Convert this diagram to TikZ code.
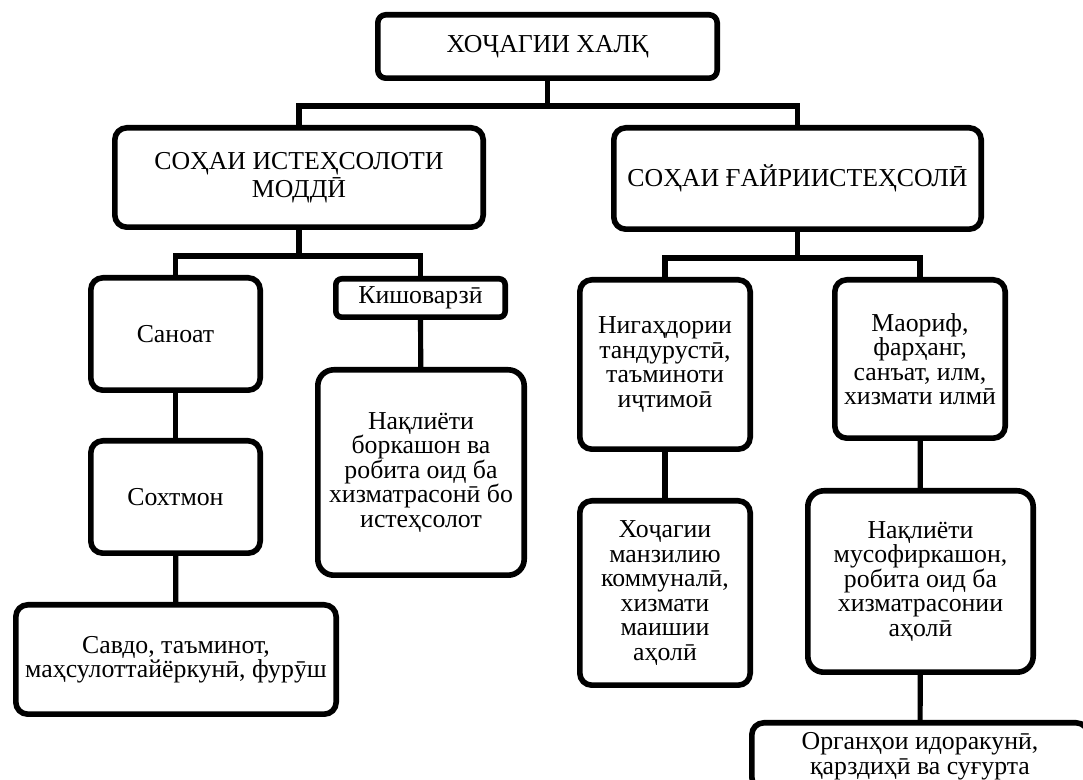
\documentclass[tikz,border=0pt]{standalone}
\usepackage{fontspec}
\setmainfont{Liberation Serif}

\begin{document}
\begin{tikzpicture}[x=0.5pt,y=-0.5pt,
    box/.style={draw,line width=2.8pt,rounded corners=6pt,align=center,inner sep=0pt,
      font=\fontsize{12.9pt}{12.25pt}\selectfont},
    link/.style={line width=2.6pt}]
            \useasboundingbox (0,0) rectangle (1083,780);
            \clip (0,0) rectangle (1083,780);
            \node[box,rounded corners=4pt,minimum width=169.7pt,minimum height=31.7pt] (halq) at (547.5,46.5) {ХОҶАГИИ ХАЛҚ};
            \node[box,minimum width=184.2pt,minimum height=49.7pt] (moddi) at (299,177.5) {СОҲАИ ИСТЕҲСОЛОТИ\\МОДДӢ};
            \node[box,minimum width=183.7pt,minimum height=50.7pt] (ghayri) at (797.5,178.5) {СОҲАИ ҒАЙРИИСТЕҲСОЛӢ};
            \node[box,minimum width=84.7pt,minimum height=56.2pt] (sanoat) at (175.5,334) {Саноат};
            \node[box,rounded corners=3pt,minimum width=84.7pt,minimum height=19.2pt] (kishovarzi) at (420.5,298) {Кишоварзӣ};
            \node[box,minimum width=84.7pt,minimum height=56.2pt] (sokhtmon) at (175.5,497) {Сохтмон};
            \node[box,minimum width=160.2pt,minimum height=54.7pt] (savdo) at (176,659.5) {Савдо, таъминот,\\маҳсулоттайёркунӣ, фурӯш};
            \node[box,rounded corners=8pt,minimum width=103.2pt,minimum height=102.7pt] (borkashon) at (421,472.5) {Нақлиёти\\боркашон ва\\робита оид ба\\хизматрасонӣ бо\\истеҳсолот};
            \node[box,minimum width=85.2pt,minimum height=84.7pt] (nigahdori) at (665,364.5) {Нигаҳдории\\тандурустӣ,\\таъминоти\\иҷтимоӣ};
            \node[box,minimum width=85.2pt,minimum height=79.2pt] (maorif) at (920,359) {Маориф,\\фарҳанг,\\санъат, илм,\\хизмати илмӣ};
            \node[box,minimum width=85.2pt,minimum height=92.2pt] (khojagii) at (665,593) {Хоҷагии\\манзилию\\коммуналӣ,\\хизмати\\маишии\\аҳолӣ};
            \node[box,rounded corners=8pt,minimum width=112.7pt,minimum height=90.7pt] (musofirkashon) at (920.5,581.5) {Нақлиёти\\мусофиркашон,\\робита оид ба\\хизматрасонии\\аҳолӣ};
            \node[box,minimum width=168.2pt,minimum height=33.2pt] (organho) at (920,756) {Органҳои идоракунӣ,\\қарздиҳӣ ва суғурта};
            \draw[link] (halq.south) -- ++(0,25) coordinate (bus0) -| (moddi.north);
            \draw[link] (bus0) -| (ghayri.north);
            \draw[link] (moddi.south) -- ++(0,26) coordinate (bus1) -| (sanoat.north);
            \draw[link] (bus1) -| (kishovarzi.north);
            \draw[link] (ghayri.south) -- ++(0,26) coordinate (bus2) -| (nigahdori.north);
            \draw[link] (bus2) -| (maorif.north);
            \draw[link] (sanoat) -- (sokhtmon);
            \draw[link] (sokhtmon) -- (savdo);
            \draw[link] (kishovarzi) -- (borkashon);
            \draw[link] (nigahdori) -- (khojagii);
            \draw[link] (maorif) -- (musofirkashon);
            \draw[link] (musofirkashon) -- (organho);
        \end{tikzpicture}
\end{document}
